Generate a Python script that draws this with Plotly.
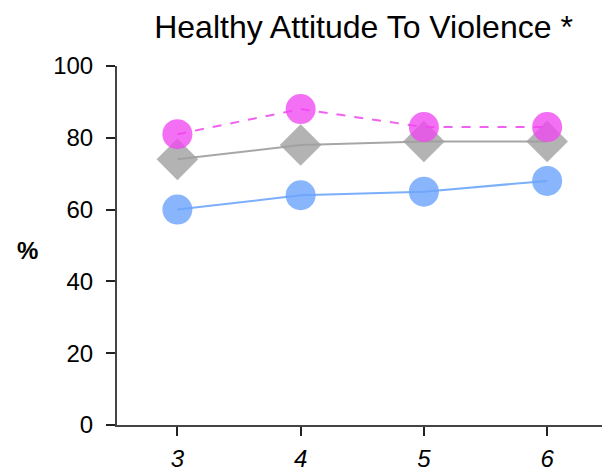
import plotly.graph_objects as go

grades = [3, 4, 5, 6]
pink_vals = [81, 88, 83, 83]
gray_vals = [74, 78, 79, 79]
blue_vals = [60, 64, 65, 68]
y_ticks = [0, 20, 40, 60, 80, 100]

# page body has an 8px default margin; figure spans 8..610 x 8..472
W, H = 602, 464
L, T, B, R = 109, 58, 47, 0

fig = go.Figure()
fig.add_trace(go.Scatter(
    x=grades, y=blue_vals, mode="lines+markers",
    line=dict(color="rgba(100,160,250,0.85)", width=2),
    marker=dict(symbol="circle", size=30, color="rgba(110,165,250,0.82)", line=dict(width=0)),
))
fig.add_trace(go.Scatter(
    x=grades, y=gray_vals, mode="lines+markers",
    line=dict(color="rgba(150,150,150,0.85)", width=2),
    marker=dict(symbol="diamond", size=32, color="rgba(160,160,160,0.8)", line=dict(width=0)),
))
fig.add_trace(go.Scatter(
    x=grades, y=pink_vals, mode="lines+markers",
    line=dict(color="rgba(240,80,240,0.9)", width=2, dash="dash"),
    marker=dict(symbol="circle", size=30, color="rgba(240,70,240,0.78)", line=dict(width=0)),
))

fig.update_layout(
    width=W, height=H,
    margin=dict(l=L, r=R, t=T, b=B),
    paper_bgcolor="white", plot_bgcolor="white",
    showlegend=False,
    font=dict(family="Liberation Sans, Arial, sans-serif", color="black"),
    title=dict(text="Healthy Attitude To Violence *", x=(L + W - R) / 2 / W, xanchor="center",
               y=1 - 19 / H, yanchor="middle", font=dict(size=32, color="black")),
    xaxis=dict(range=[2.51, 6.51], tickvals=grades, ticktext=[str(g) for g in grades],
               showgrid=False, zeroline=False, showline=True, linecolor="#444", linewidth=2,
               ticks="outside", ticklen=9, tickwidth=2, tickcolor="#222", ticklabelstandoff=2,
               tickfont=dict(size=24, style="italic", color="black")),
    yaxis=dict(range=[0, 100], tickvals=y_ticks, showgrid=False, zeroline=False,
               showline=True, linecolor="#444", linewidth=2,
               ticks="outside", ticklen=9, tickwidth=2, tickcolor="#222", ticklabelstandoff=8,
               tickfont=dict(size=24, color="black")),
    annotations=[dict(text="<b>%</b>", showarrow=False, xref="paper", yref="paper",
                      x=(19 - L) / (W - L - R), y=(417 - 242) / (H - T - B),
                      xanchor="center", yanchor="middle",
                      font=dict(size=24, color="black"))],
)

fig.write_html("out.html")
